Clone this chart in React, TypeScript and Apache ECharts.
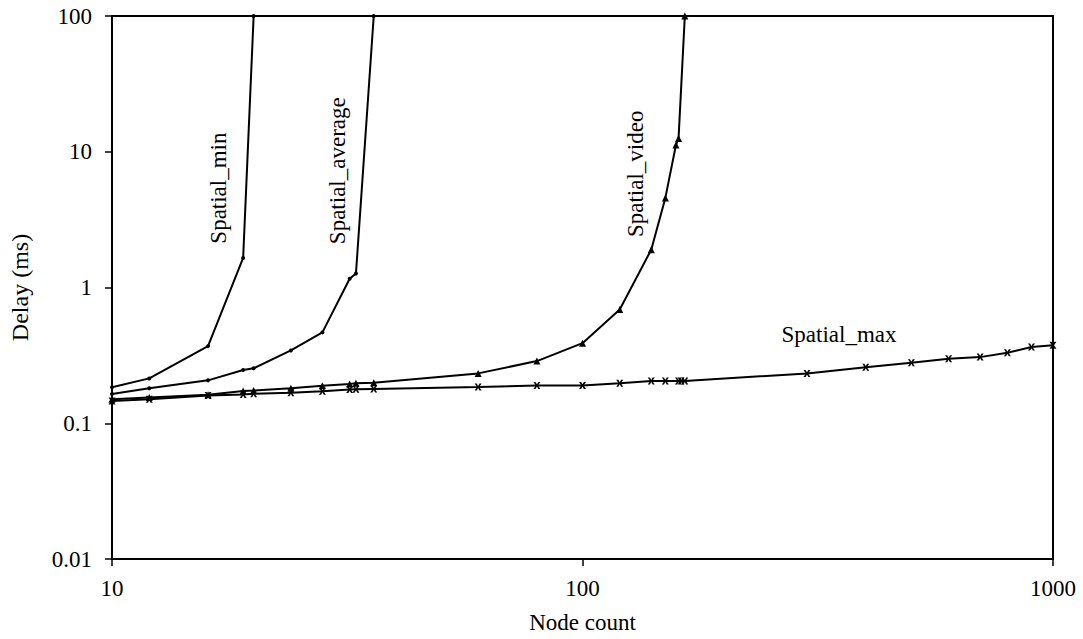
import React, { useEffect, useRef } from "react";
import * as echarts from "echarts";

// Node counts and delays (ms)
const minX = [10, 12, 16, 19, 20];
const minY = [0.184, 0.214, 0.37, 1.65, 100];

const avgX = [10, 12, 16, 19, 20, 24, 28, 32, 33, 36];
const avgY = [0.164, 0.181, 0.207, 0.247, 0.254, 0.344, 0.467, 1.16, 1.27, 100];

const videoX = [10, 12, 16, 19, 20, 24, 28, 32, 33, 36, 60, 80, 100, 120, 140, 150, 158, 160, 165];
const videoY = [0.15, 0.155, 0.162, 0.173, 0.174, 0.181, 0.189, 0.195, 0.197, 0.199, 0.233, 0.287, 0.389, 0.689, 1.9, 4.57, 11.2, 12.5, 100];

const maxX = [10, 12, 16, 19, 20, 24, 28, 32, 33, 36, 60, 80, 100, 120, 140, 150, 160, 162, 165, 300, 400, 500, 600, 700, 800, 900, 1000];
const maxY = [0.146, 0.15, 0.16, 0.163, 0.165, 0.168, 0.172, 0.177, 0.178, 0.179, 0.185, 0.19, 0.19, 0.197, 0.205, 0.205, 0.205, 0.205, 0.205, 0.233, 0.259, 0.279, 0.299, 0.307, 0.331, 0.364, 0.376];

const yTicks = [0.01, 0.1, 1, 10, 100];
const xTicks = [10, 100, 1000];

// Series annotation labels: text, node count, delay, vertical
const labelNames = ["Spatial_min", "Spatial_average", "Spatial_video", "Spatial_max"];
const labelX = [16.8, 30.1, 129.6, 351];
const labelY = [5.4, 7.25, 6.88, 0.451];
const labelVertical = [true, true, true, false];

const FONT = '"Liberation Serif", "Times New Roman", serif';

const zip = (xs: number[], ys: number[]) => xs.map((x, i) => [x, ys[i]]);

const crossPath =
  "path://M0,0 L3,0 L5,3.5 L7,0 L10,0 L6.5,5 L10,10 L7,10 L5,6.5 L3,10 L0,10 L3.5,5 Z";

export default function App() {
  const ref = useRef<HTMLDivElement>(null);
  useEffect(() => {
    document.body.style.margin = "0";
    if (!ref.current) return;
    const chart = echarts.init(ref.current, undefined, { renderer: "svg" });
    const lineStyle = { color: "#000", width: 2 };
    const fmt = (v: number) => {
      const r = yTicks.concat(xTicks).find((t) => Math.abs(t - v) / t < 1e-6);
      return r !== undefined ? String(r) : "";
    };
    chart.setOption({
      animation: false,
      backgroundColor: "#fff",
      textStyle: { fontFamily: FONT },
      grid: {
        left: 111,
        right: 30,
        top: 16,
        bottom: 79,
        show: true,
        borderColor: "#000",
        borderWidth: 2,
      },
      xAxis: {
        type: "log",
        logBase: 10,
        min: 10,
        max: 1000,
        name: "Node count",
        nameLocation: "middle",
        nameGap: 52,
        nameTextStyle: { color: "#000", fontSize: 23, fontFamily: FONT },
        axisLine: { lineStyle: { color: "#000", width: 2 } },
        axisTick: { show: true, length: 7, lineStyle: { color: "#000", width: 1.5 } },
        minorTick: { show: false },
        splitLine: { show: false },
        axisLabel: { color: "#000", fontSize: 23, fontFamily: FONT, margin: 18, formatter: fmt },
      },
      yAxis: {
        type: "log",
        logBase: 10,
        min: 0.01,
        max: 100,
        name: "Delay (ms)",
        nameLocation: "middle",
        nameGap: 80,
        nameRotate: 90,
        nameTextStyle: { color: "#000", fontSize: 24, fontFamily: FONT },
        axisLine: { lineStyle: { color: "#000", width: 2 } },
        axisTick: { show: true, length: 7, lineStyle: { color: "#000", width: 1.5 } },
        splitLine: { show: false },
        axisLabel: { color: "#000", fontSize: 23, fontFamily: FONT, margin: 20, formatter: fmt },
      },
      series: [
        {
          name: "Spatial_min",
          type: "line",
          data: zip(minX, minY),
          symbol: "circle",
          symbolSize: 4,
          itemStyle: { color: "#000" },
          lineStyle,
        },
        {
          name: "Spatial_average",
          type: "line",
          data: zip(avgX, avgY),
          symbol: "circle",
          symbolSize: 4,
          itemStyle: { color: "#000" },
          lineStyle,
        },
        {
          name: "Spatial_video",
          type: "line",
          data: zip(videoX, videoY),
          symbol: "triangle",
          symbolSize: 7,
          itemStyle: { color: "#000" },
          lineStyle,
        },
        {
          name: "Spatial_max",
          type: "line",
          data: zip(maxX, maxY),
          symbol: crossPath,
          symbolSize: 7,
          itemStyle: { color: "#000" },
          lineStyle,
        },
      ],
    });
    const graphics = labelNames.map((name, i) => {
      const p = chart.convertToPixel({ gridIndex: 0 }, [labelX[i], labelY[i]]) as number[];
      return {
        type: "text",
        x: p[0],
        y: p[1],
        rotation: labelVertical[i] ? Math.PI / 2 : 0,
        style: {
          text: name,
          fill: "#000",
          font: `23px ${FONT}`,
          align: "center",
          verticalAlign: "middle",
        },
        z: 10,
      };
    });
    chart.setOption({ graphic: graphics });
    return () => chart.dispose();
  }, []);
  return <div ref={ref} style={{ width: 1083, height: 639 }} />;
}
